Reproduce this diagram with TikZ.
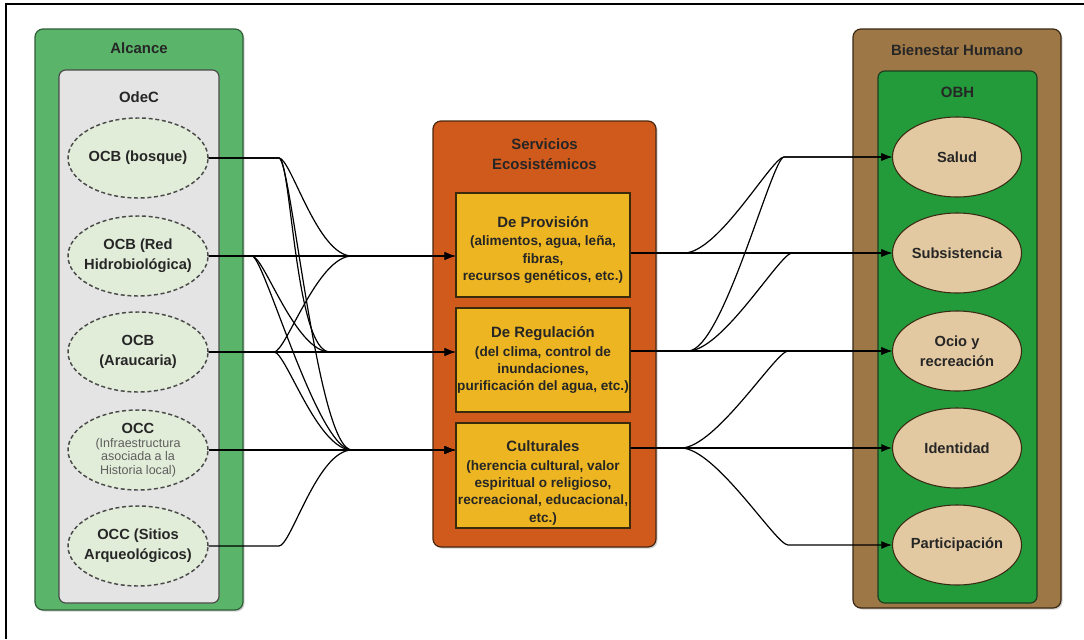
\documentclass[tikz,border=0pt]{standalone}
\usepackage{fontspec}
\setmainfont{Liberation Sans}
\usetikzlibrary{arrows.meta,shapes.geometric,shadows,calc}
\definecolor{alcfill}{HTML}{5AB56A}
\definecolor{alcdraw}{HTML}{2F5F38}
\definecolor{odecfill}{HTML}{E4E4E4}
\definecolor{odecdraw}{HTML}{4A4A4A}
\definecolor{ovalfill}{HTML}{E2EDD9}
\definecolor{servfill}{HTML}{CF5A1C}
\definecolor{servdraw}{HTML}{4A2810}
\definecolor{yelfill}{HTML}{EDB521}
\definecolor{yeldraw}{HTML}{3A2A0C}
\definecolor{bhfill}{HTML}{9E7746}
\definecolor{bhdraw}{HTML}{3A2A14}
\definecolor{obhfill}{HTML}{239B3B}
\definecolor{obhdraw}{HTML}{1C3F20}
\definecolor{tanfill}{HTML}{E3C9A1}
\definecolor{txtdark}{HTML}{262626}
\definecolor{txtgray}{HTML}{5E5E5E}
\begin{document}
\begin{tikzpicture}[x=0.75pt,y=-0.75pt,
  container/.style={draw, line width=0.9pt, rounded corners=6pt, inner sep=0pt,
    drop shadow={opacity=0.35, shadow xshift=1.2pt, shadow yshift=-1.2pt}},
  inner/.style={draw, line width=0.9pt, rounded corners=5pt, inner sep=0pt},
  title/.style={font=\bfseries\fontsize{11.2}{15}\selectfont, text=txtdark, align=center},
  lbl/.style={font=\bfseries\fontsize{11}{15}\selectfont, text=txtdark, align=center},
  oval/.style={ellipse, draw=odecdraw, fill=ovalfill, dash pattern=on 3pt off 2pt,
    line width=1.1pt, minimum width=105pt, minimum height=60pt, inner sep=0pt},
  tanoval/.style={ellipse, draw=bhdraw, fill=tanfill, line width=0.8pt,
    minimum width=96.75pt, minimum height=60pt, inner sep=0pt},
  servbox/.style={draw=yeldraw, fill=yelfill, line width=1.1pt, minimum width=130.5pt,
    minimum height=78pt, inner sep=0pt},
  servtxt/.style={align=center, text=txtdark, font=\bfseries\fontsize{10.2}{13}\selectfont},
  link/.style={draw=black, line width=0.9pt, -{Latex[length=8pt,width=6pt]}},
  lcurve/.style={out=0, in=180, out distance=9pt, in distance=26pt},
  rcurve/.style={out=0, in=180, out distance=26pt, in distance=9pt}
]
\useasboundingbox (0,0) rectangle (1084,639);
\fill[white] (0,0) rectangle (1084,639);
% frame of the figure
\draw[line width=1.4pt] (6,639) -- (6,4) -- (1084,4);

% ---------- Alcance / OdeC ----------
\node[container, draw=alcdraw, fill=alcfill, minimum width=156pt, minimum height=435.75pt]
  (alcance) at (139,319.5) {};
\node[title] (alcT) at (139,48) {Alcance};
\node[inner, draw=odecdraw, fill=odecfill, minimum width=120pt, minimum height=399.75pt]
  (odec) at (139,336.5) {};
\node[title] (odecT) at (139,97) {OdeC};

\node[oval, label={[lbl]center:OCB (bosque)}] (bosque) at (138,158) {};
\node[oval, label={[lbl]center:OCB (Red\\Hidrobiológica)}] (red) at (138,256) {};
\node[oval, label={[lbl]center:OCB\\(Araucaria)}] (arau) at (138,352) {};
\node[oval, label={[align=center, text=txtgray, font=\fontsize{9.4}{10.2}\selectfont]center:\bfseries\color{txtdark}\fontsize{11}{12}\selectfont OCC\\(Infraestructura\\asociada a la\\Historia local)}] (infra) at (138,450) {};
\node[oval, label={[lbl]center:OCC (Sitios\\Arqueológicos)}] (sitios) at (138,546) {};

% ---------- Servicios Ecosistémicos ----------
\node[container, draw=servdraw, fill=servfill, minimum width=167.25pt, minimum height=319.5pt]
  (serv) at (544.5,334) {};
\node[title, text=black!85] (servT) at (544.5,154) {Servicios\\Ecosistémicos};

\node[servbox, label={[servtxt, yshift=-3.5pt]center:\fontsize{11.2}{14}\selectfont De Provisión\\[1pt]
   (alimentos, agua, leña,\\fibras,\\recursos genéticos, etc.)}] (prov) at (543,245) {};
\node[servbox, label={[servtxt]center:\fontsize{11.2}{14}\selectfont De Regulación\\[1pt]
   (del clima, control de\\inundaciones,\\purificación del agua, etc.)}] (reg) at (543,360) {};
\node[servbox, minimum height=78.75pt, label={[servtxt, yshift=-5.5pt]center:\fontsize{11.2}{14}\selectfont Culturales\\[1pt]
   (herencia cultural, valor\\espiritual o religioso,\\recreacional, educacional,\\etc.)}] (cult) at (543,475.5) {};

% ---------- Bienestar Humano / OBH ----------
\node[container, draw=bhdraw, fill=bhfill, minimum width=156pt, minimum height=434.25pt]
  (bien) at (957,318.5) {};
\node[title] (bienT) at (957,50) {Bienestar Humano};
\node[inner, draw=obhdraw, fill=obhfill, minimum width=119.25pt, minimum height=399pt]
  (obh) at (957.5,337) {};
\node[title] (obhT) at (957.5,92) {OBH};

\node[tanoval, label={[lbl]center:Salud}] (salud) at (957,157) {};
\node[tanoval, label={[lbl]center:Subsistencia}] (subs) at (957,253) {};
\node[tanoval, label={[lbl]center:Ocio y\\recreación}] (ocio) at (957,351) {};
\node[tanoval, label={[lbl]center:Identidad}] (ident) at (957,448) {};
\node[tanoval, label={[lbl]center:Participación}] (part) at (957,545) {};

% ---------- bend and merge points of the connectors ----------
\coordinate (bB) at (279,158);
\coordinate (rB) at (252,256);
\coordinate (aB) at (274,352);
\coordinate (sB) at (279,546);
\coordinate (mP) at (352,256);
\coordinate (mR) at (330,352);
\coordinate (mC) at (352,450);

\coordinate (pB) at (684,253);
\coordinate (gB) at (688,351);
\coordinate (cB) at (681,448);
\coordinate (mSal) at (784,157);
\coordinate (mSub) at (792,253);
\coordinate (mOc) at (788,351);
\coordinate (mPar) at (788,545);

% ---------- objects -> services ----------
\draw[link] (bosque.east) -- (bB) to[lcurve] (mP) -- (prov.west |- mP);
\draw[link] (bosque.east) -- (bB) to[lcurve] (mR) -- (reg.west |- mR);
\draw[link] (bosque.east) -- (bB) to[lcurve] (mC) -- (cult.west |- mC);
\draw[link] (red.east) -- (prov.west |- red.east);
\draw[link] (red.east) -- (rB) to[lcurve] (mR) -- (reg.west |- mR);
\draw[link] (red.east) -- (rB) to[lcurve] (mC) -- (cult.west |- mC);
\draw[link] (arau.east) -- (aB) to[lcurve] (mP) -- (prov.west |- mP);
\draw[link] (arau.east) -- (reg.west |- arau.east);
\draw[link] (arau.east) -- (aB) to[lcurve] (mC) -- (cult.west |- mC);
\draw[link] (infra.east) -- (cult.west |- infra.east);
\draw[link] (sitios.east) -- (sB) to[lcurve] (mC) -- (cult.west |- mC);

% ---------- services -> well-being ----------
\draw[link] (prov.east |- subs.west) -- (pB) to[rcurve] (mSal) -- (salud.west);
\draw[link] (prov.east |- subs.west) -- (subs.west);
\draw[link] (reg.east |- ocio.west) -- (gB) to[rcurve] (mSal) -- (salud.west);
\draw[link] (reg.east |- ocio.west) -- (gB) to[rcurve] (mSub) -- (subs.west);
\draw[link] (reg.east |- ocio.west) -- (ocio.west);
\draw[link] (cult.east |- ident.west) -- (cB) to[rcurve] (mOc) -- (ocio.west);
\draw[link] (cult.east |- ident.west) -- (ident.west);
\draw[link] (cult.east |- ident.west) -- (cB) to[rcurve] (mPar) -- (part.west);
\end{tikzpicture}
\end{document}
